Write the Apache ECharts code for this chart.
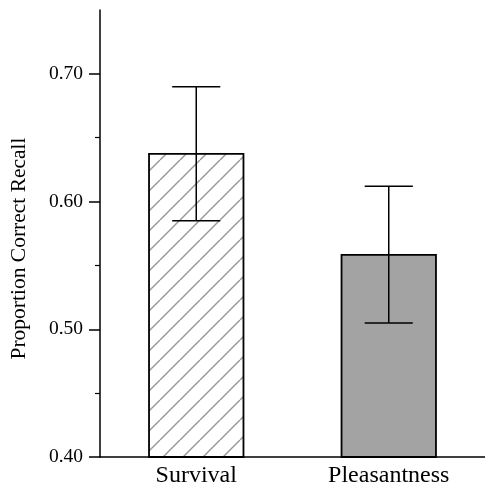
<!DOCTYPE html>
<html>
<head>
<meta charset="utf-8">
<script src="https://cdn.jsdelivr.net/npm/echarts@6/dist/echarts.min.js"></script>
<style>html,body{margin:0;padding:0;background:#fff;}#c{width:485px;height:488px;}</style>
</head>
<body>
<div id="c"></div>
<script>
const categories = ['Survival', 'Pleasantness'];
const means = [0.638, 0.559];
const errLow = [0.585, 0.505];
const errHigh = [0.690, 0.612];
const majorTicks = [0.40, 0.50, 0.60, 0.70];
const minorTicks = [0.45, 0.55, 0.65];

function hatch() {
  const s = 20;
  const c = document.createElement('canvas');
  c.width = s; c.height = s;
  const g = c.getContext('2d');
  g.fillStyle = '#fff'; g.fillRect(0, 0, s, s);
  g.strokeStyle = '#999'; g.lineWidth = 1.5;
  for (let k = -1; k <= 1; k++) {
    g.beginPath();
    g.moveTo(k * s, s); g.lineTo(k * s + s, 0);
    g.stroke();
  }
  return c;
}

const font = '"Liberation Serif", "Times New Roman", serif';
const chart = echarts.init(document.getElementById('c'), null, {renderer: 'canvas'});
chart.setOption({
  animation: false,
  backgroundColor: '#fff',
  grid: {left: 100, right: 0, top: 10, bottom: 28, containLabel: false},
  xAxis: {
    type: 'category', data: categories,
    axisLine: {lineStyle: {color: '#000', width: 1.5}},
    axisTick: {show: false},
    axisLabel: {color: '#000', fontFamily: font, fontSize: 24, margin: 7}
  },
  yAxis: [{
    type: 'value', min: 0.4, max: 0.75,
    name: 'Proportion Correct Recall', nameLocation: 'middle', nameGap: 70,
    nameTextStyle: {color: '#000', fontFamily: font, fontSize: 21.5, padding: [0, 0, 0, -30]},
    axisLine: {show: true, lineStyle: {color: '#000', width: 1.5}},
    axisTick: {show: true, length: 11, customValues: majorTicks, lineStyle: {color: '#000', width: 1.5}},
    axisLabel: {color: '#000', fontFamily: font, fontSize: 19.5, margin: 17,
      customValues: majorTicks, formatter: v => v.toFixed(2)},
    splitLine: {show: false}
  }, {
    type: 'value', min: 0.4, max: 0.75, position: 'left',
    axisLine: {show: false},
    axisTick: {show: true, length: 5, customValues: minorTicks, lineStyle: {color: '#000', width: 1.2}},
    axisLabel: {show: false},
    splitLine: {show: false}
  }],
  series: [{
    type: 'bar', barWidth: '50%', yAxisIndex: 0,
    data: means.map((v, i) => ({
      value: v,
      itemStyle: i === 0
        ? {color: {image: hatch(), repeat: 'repeat'}, borderColor: '#000', borderWidth: 1.8}
        : {color: '#a3a3a3', borderColor: '#000', borderWidth: 1.8}
    }))
  }, {
    type: 'custom', yAxisIndex: 0, z: 5,
    data: categories.map((c, i) => [i, errLow[i], errHigh[i]]),
    encode: {x: 0, y: [1, 2]},
    renderItem: function (params, api) {
      const x = api.value(0);
      const lo = api.coord([x, api.value(1)]);
      const hi = api.coord([x, api.value(2)]);
      const hw = api.size([1, 0])[0] * 0.125;
      const st = {stroke: '#000', lineWidth: 1.5};
      return {type: 'group', children: [
        {type: 'line', shape: {x1: lo[0], y1: lo[1], x2: hi[0], y2: hi[1]}, style: st},
        {type: 'line', shape: {x1: hi[0] - hw, y1: hi[1], x2: hi[0] + hw, y2: hi[1]}, style: st},
        {type: 'line', shape: {x1: lo[0] - hw, y1: lo[1], x2: lo[0] + hw, y2: lo[1]}, style: st}
      ]};
    }
  }]
});
</script>
</body>
</html>
